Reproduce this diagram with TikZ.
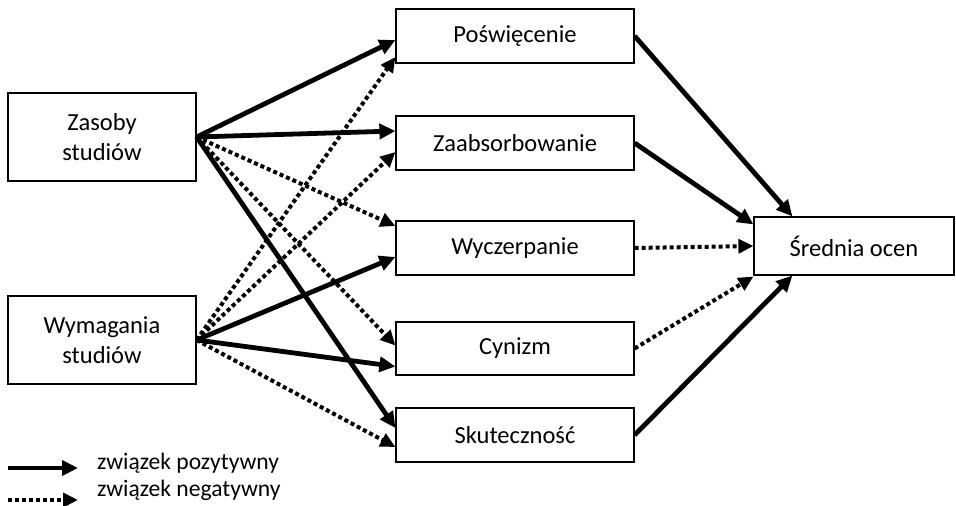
\documentclass[tikz,border=0pt]{standalone}
\usepackage{fontspec}
\setmainfont{Carlito}
\usetikzlibrary{arrows.meta}
\begin{document}
\begin{tikzpicture}[x=1pt,y=-1pt,
  box/.style={draw,line width=1.2pt,align=center,inner sep=0pt,
    font=\fontsize{24.5}{30}\selectfont},
  pos arrow/.style={line width=4.8pt,-{Triangle[length=16pt,width=15pt]}},
  neg arrow/.style={line width=4pt,dash pattern=on 4pt off 3pt,-{Triangle[length=15pt,width=14pt]}},
  legtext/.style={anchor=base west,font=\fontsize{23.6}{28}\selectfont,inner sep=0pt}]
\useasboundingbox (0,0) rectangle (956,506);
% nodes
\node[box,minimum width=188pt,minimum height=88pt] (zas) at (102,137) {Zasoby\\studiów};
\node[box,minimum width=188pt,minimum height=88pt] (wym) at (102,340) {Wymagania\\studiów};
\node[box,minimum width=238pt,minimum height=54pt] (pos) at (515,36) {Poświęcenie};
\node[box,minimum width=238pt,minimum height=54pt] (zaa) at (515,143) {Zaabsorbowanie};
\node[box,minimum width=238pt,minimum height=54pt] (wyc) at (515,248) {Wyczerpanie};
\node[box,minimum width=238pt,minimum height=53pt] (cyn) at (515,348.5) {Cynizm};
\node[box,minimum width=238pt,minimum height=54pt] (sku) at (515,435) {Skuteczność};
\node[box,minimum width=200pt,minimum height=58pt] (sre) at (854,246) {Średnia ocen};
% left arrows from Zasoby
\draw[pos arrow] (zas.east) -- ([yshift=-4pt]pos.west);
\draw[pos arrow] (zas.east) -- ([yshift=12pt]zaa.west);
\draw[neg arrow] (zas.east) -- ([yshift=22pt]wyc.west);
\draw[neg arrow] (zas.east) -- ([yshift=3pt]cyn.west);
\draw[pos arrow] (zas.east) -- ([yshift=7pt]sku.west);
% left arrows from Wymagania
\draw[neg arrow] (wym.east) -- ([yshift=-21pt]pos.west);
\draw[neg arrow] (wym.east) -- ([yshift=-9pt]zaa.west);
\draw[pos arrow] (wym.east) -- ([yshift=-9pt]wyc.west);
\draw[pos arrow] (wym.east) -- ([yshift=-18pt]cyn.west);
\draw[neg arrow] (wym.east) -- ([yshift=-12pt]sku.west);
% right arrows
\draw[pos arrow] (pos.east) -- ([xshift=39pt]sre.north west);
\draw[pos arrow] (zaa.east) -- ([yshift=-8pt]sre.north west);
\draw[neg arrow] (wyc.east) -- (sre.west);
\draw[neg arrow] (cyn.east) -- ([yshift=-1pt]sre.south west);
\draw[pos arrow] (sku.east) -- ([xshift=39pt]sre.south west);
% legend
\coordinate (l1a) at (8,468);
\coordinate (l1b) at (78,468);
\coordinate (l2a) at (8,500);
\coordinate (l2b) at (78,500);
\draw[pos arrow] (l1a) -- (l1b);
\draw[neg arrow] (l2a) -- (l2b);
\node[legtext] (lt1) at (97,469) {związek pozytywny};
\node[legtext] (lt2) at (97,496) {związek negatywny};
\end{tikzpicture}
\end{document}
